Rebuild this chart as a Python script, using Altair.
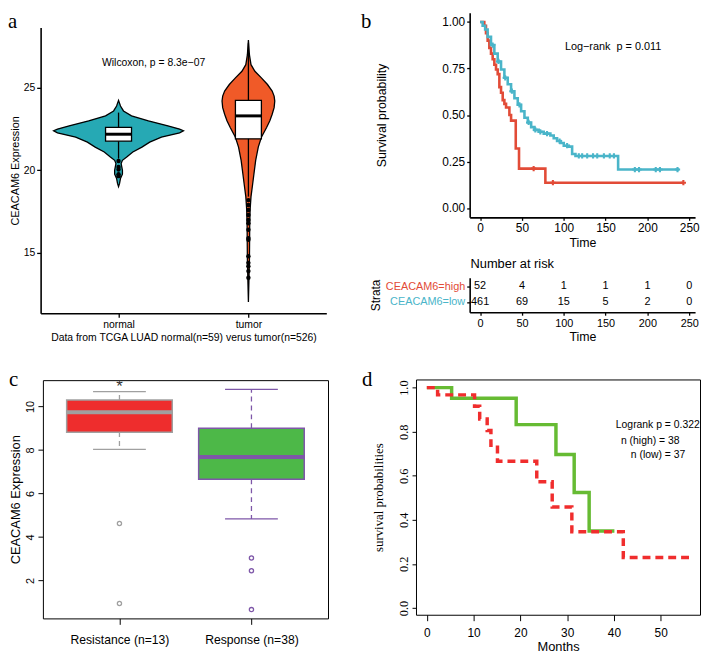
import altair as alt
import numpy as np
import pandas as pd

SANS = "Liberation Sans"
SERIF = "Liberation Serif"
W, H = 701, 651

# ---------------- panel a : violin + box ----------------
normal_y = [24.24, 23.90, 23.60, 23.30, 23.00, 22.70, 22.50, 22.40, 22.27, 22.01, 21.71,
            21.41, 21.11, 20.81, 20.61, 20.41, 20.21, 20.01, 19.77, 19.51, 19.21, 19.01]
normal_hw = [0.0, 0.015, 0.038, 0.10, 0.23, 0.38, 0.47, 0.50, 0.47, 0.33, 0.24,
             0.18, 0.11, 0.063, 0.03, 0.02, 0.025, 0.03, 0.03, 0.015, 0.008, 0.0]
tumor_y = [27.89, 26.99, 26.40, 26.00, 25.60, 25.20, 24.80, 24.50, 24.20, 23.80, 23.40, 23.00,
           22.60, 22.01, 21.41, 20.61, 19.81, 19.01, 18.41, 17.61, 16.62, 14.62, 12.03]
tumor_hw = [0.0, 0.008, 0.02, 0.05, 0.10, 0.147, 0.183, 0.198, 0.203, 0.198, 0.183, 0.165,
            0.14, 0.10, 0.076, 0.056, 0.043, 0.03, 0.02, 0.013, 0.01, 0.008, 0.0]
a_groups = ["normal", "tumor"]
a_pos = [1, 2]
a_q1 = [21.77, 21.91]
a_med = [22.19, 23.30]
a_q3 = [22.60, 24.24]
a_lo = [20.71, 18.41]
a_hi = [23.50, 27.70]
normal_out = [20.57, 20.20, 20.05, 19.77, 19.65]
tumor_out = [18.2, 17.9, 17.6, 17.3, 17.0, 16.8, 16.4, 15.9, 15.8, 14.8, 14.4, 14.2, 13.9, 13.5]

# ---------------- panel b : KM + risk table ----------------
b_high_t = [0, 5, 7, 9, 11, 13, 15, 17, 19, 21, 23, 25, 27, 29, 31, 35, 37, 42.6, 46.5, 78, 243]
b_high_s = [1.0, 0.98, 0.94, 0.90, 0.86, 0.83, 0.80, 0.77, 0.745, 0.72, 0.65, 0.62, 0.58, 0.56,
            0.54, 0.50, 0.47, 0.32, 0.212, 0.136, 0.136]
b_low_t = [0, 3, 6, 9, 13, 17, 21, 25, 29, 33, 37, 41, 45, 49, 53, 57, 61, 65, 70, 76, 84, 88,
           92, 96, 100, 106, 110, 114, 165, 238]
b_low_s = [1.0, 0.98, 0.96, 0.92, 0.876, 0.83, 0.788, 0.745, 0.70, 0.665, 0.628, 0.59, 0.555,
           0.52, 0.485, 0.46, 0.435, 0.42, 0.41, 0.40, 0.39, 0.375, 0.36, 0.35, 0.335, 0.33,
           0.29, 0.28, 0.207, 0.207]
b_high_cens = [64, 87, 243]
b_low_cens = [15, 22, 30, 38, 47, 58, 66, 72, 80, 95, 104, 118, 122, 128, 135, 140, 148, 155,
              160, 185, 190, 210, 215, 236]
rt_times = [0, 50, 100, 150, 200, 250]
rt_high = [52, 4, 1, 1, 1, 0]
rt_low = [461, 69, 15, 5, 2, 0]
strata = ["CEACAM6=high", "CEACAM6=low"]

# ---------------- panel c : boxplot ----------------
c_groups = ["Resistance", "Response"]
c_pos = [1, 2]
c_q1 = [8.82, 6.65]
c_med = [9.73, 7.68]
c_q3 = [10.30, 9.00]
c_lo = [8.03, 4.83]
c_hi = [10.68, 10.79]
c_out_res = [4.62, 0.94]
c_out_resp = [3.03, 2.45, 0.66]

# ---------------- panel d : KM ----------------
d_green_t = [0, 5.3, 19.1, 27.6, 31.5, 34.7, 40.1]
d_green_s = [1.0, 0.952, 0.832, 0.696, 0.524, 0.349, 0.349]
d_red_t = [0, 2.3, 10.2, 11.3, 12.9, 13.7, 15.1, 23.5, 26.8, 31.0, 42.0, 56.5]
d_red_s = [1.0, 0.967, 0.915, 0.858, 0.805, 0.738, 0.666, 0.573, 0.458, 0.346, 0.229, 0.229]


def S(dom, rng):
    return alt.Scale(domain=dom, range=rng, nice=False, zero=False)


SA_X = S([0.4, 2.6], [33, 322]); SA_Y = S([11.35, 28.65], [305, 16])
SB_X = S([-12.5, 257], [467, 695]); SB_Y = S([-0.05, 1.05], [208, 1])
SR_Y = S([0.34, 2.57], [304, 269])
SC_X = S([0.42, 2.58], [35.3, 323.7]); SC_Y = S([0.255, 11.21], [613.7, 372.7])
SD_X = S([-2.32, 58.4], [412.7, 700]); SD_Y = S([-0.031, 1.037], [610, 372])


def X(f, sc, axis=None):
    return alt.X(f, type="quantitative", scale=sc, axis=axis)


def Y(f, sc, axis=None):
    return alt.Y(f, type="quantitative", scale=sc, axis=axis)


# ======== panel a ========
A_BOX_HW = 0.10
vio = pd.concat([
    pd.DataFrame({"group": "normal", "value": normal_y,
                  "lo": 1 - np.array(normal_hw), "hi": 1 + np.array(normal_hw)}),
    pd.DataFrame({"group": "tumor", "value": tumor_y,
                  "lo": 2 - np.array(tumor_hw), "hi": 2 + np.array(tumor_hw)}),
])
abox = pd.DataFrame({"group": a_groups, "pos": a_pos, "q1": a_q1, "med": a_med,
                     "q3": a_q3, "lo": a_lo, "hi": a_hi})
abox["x0"] = abox["pos"] - A_BOX_HW
abox["x1"] = abox["pos"] + A_BOX_HW
aout = pd.DataFrame({"pos": [1] * len(normal_out) + [2] * len(tumor_out),
                     "v": normal_out + tumor_out})

ggax = dict(domainWidth=1.6, tickWidth=1.3, tickSize=4, labelPadding=2, labelFontSize=10.5,
            titleFontSize=11)
ax_a_x = alt.Axis(orient="bottom", offset=305 - H, values=[1, 2],
                  labelExpr="datum.value == 1 ? 'normal' : 'tumor'",
                  title="Data from TCGA LUAD normal(n=59) verus tumor(n=526)",
                  titlePadding=3, **{**ggax, "titleFontSize": 10.5})
ax_a_y = alt.Axis(orient="left", offset=-33, values=[15, 20, 25], title="CEACAM6 Expression",
                  titlePadding=3, **ggax)

a_violin = alt.Chart(vio).mark_area(orient="horizontal", stroke="black", strokeWidth=1.3,
                                    opacity=1).encode(
    y=Y("value", SA_Y, ax_a_y), x=X("lo", SA_X, ax_a_x), x2="hi",
    color=alt.Color("group:N", scale=alt.Scale(domain=a_groups, range=["#26A9B4", "#F05A28"]),
                    legend=None),
    detail="group:N")
a_whisk = alt.Chart(abox).mark_rule(color="black", strokeWidth=1.3).encode(
    x=X("pos", SA_X), y=Y("lo", SA_Y), y2="hi")
a_box = alt.Chart(abox).mark_rect(fill="white", stroke="black", strokeWidth=1.3).encode(
    x=X("x0", SA_X), x2="x1", y=Y("q1", SA_Y), y2="q3")
a_med = alt.Chart(abox).mark_rule(color="black", strokeWidth=3).encode(
    x=X("x0", SA_X), x2="x1", y=Y("med", SA_Y))
a_out = alt.Chart(aout).mark_circle(color="black", size=20, opacity=1).encode(
    x=X("pos", SA_X), y=Y("v", SA_Y))
a_txt = alt.Chart(pd.DataFrame({"x": [1.27], "y": [26.5]})).mark_text(
    text="Wilcoxon, p = 8.3e\u221207", font=SANS, fontSize=10.5, color="black").encode(
    x=X("x", SA_X), y=Y("y", SA_Y))

# ======== panel b ========
def km_frame(t, s, grp):
    return pd.DataFrame({"t": t, "s": s, "g": grp})


def censor_frame(ct, t, s, grp):
    idx = np.searchsorted(np.array(t), np.array(ct), side="right") - 1
    return pd.DataFrame({"t": ct, "s": np.array(s)[idx], "g": grp})


bkm = pd.concat([km_frame(b_high_t, b_high_s, "high"), km_frame(b_low_t, b_low_s, "low")])
bcen = pd.concat([censor_frame(b_high_cens, b_high_t, b_high_s, "high"),
                  censor_frame(b_low_cens, b_low_t, b_low_s, "low")])
KM_COL = alt.Scale(domain=["high", "low"], range=["#E24B37", "#4AB5C9"])

bax = dict(domainWidth=1.6, tickWidth=1.3, tickSize=3, labelPadding=2, labelFontSize=12,
           titleFontSize=12.5)
ax_b_x = alt.Axis(orient="bottom", offset=208 - H, values=rt_times, title="Time",
                  titlePadding=3, **bax)
ax_b_y = alt.Axis(orient="left", offset=-467, values=[0, 0.25, 0.5, 0.75, 1.0], format=".2f",
                  title="Survival probability", titlePadding=54, **bax)

b_lines = alt.Chart(bkm).mark_line(interpolate="step-after", strokeWidth=2.6).encode(
    x=X("t", SB_X, ax_b_x), y=Y("s", SB_Y, ax_b_y),
    color=alt.Color("g:N", scale=KM_COL, legend=None))
b_cens = alt.Chart(bcen).mark_point(shape="cross", filled=True, size=28, opacity=1).encode(
    x=X("t", SB_X), y=Y("s", SB_Y), color=alt.Color("g:N", scale=KM_COL, legend=None))
b_txt = alt.Chart(pd.DataFrame({"x": [159], "y": [0.867]})).mark_text(
    text="Log\u2212rank\u00a0\u00a0p = 0.011", font=SANS, fontSize=11, color="black").encode(
    x=X("x", SB_X), y=Y("y", SB_Y))

rt = pd.DataFrame({"t": rt_times * 2, "n": rt_high + rt_low,
                   "row": [2] * len(rt_times) + [1] * len(rt_times)})
ax_r_x = alt.Axis(orient="bottom", offset=304 - H, values=rt_times, title="Time",
                  titlePadding=3, **{**bax, "labelFontSize": 11})
ax_r_y = alt.Axis(orient="left", offset=-467, values=[1, 2],
                  labelExpr=f"datum.value == 2 ? '{strata[0]}' : '{strata[1]}'",
                  labelColor={"condition": {"test": "datum.value == 2", "value": "#E24B37"},
                              "value": "#4AB5C9"},
                  title="Strata", titlePadding=3, **{**bax, "labelFontSize": 11, "titleFontSize": 12})
r_txt = alt.Chart(rt).mark_text(font=SANS, fontSize=11, color="black").encode(
    x=X("t", SB_X, ax_r_x), y=Y("row", SR_Y, ax_r_y), text="n:Q")
r_title = alt.Chart(pd.DataFrame({"x": [-11.5], "y": [3.46]})).mark_text(
    text="Number at risk", font=SANS, fontSize=13, align="left", color="black").encode(
    x=X("x", SB_X), y=Y("y", SR_Y))

# ======== panel c ========
C_BOX_HW = 0.40
C_CAP_HW = 0.20
cbox = pd.DataFrame({"group": c_groups, "pos": c_pos, "q1": c_q1, "med": c_med, "q3": c_q3,
                     "lo": c_lo, "hi": c_hi})
cbox["x0"] = cbox["pos"] - C_BOX_HW
cbox["x1"] = cbox["pos"] + C_BOX_HW
cwh = pd.concat([
    pd.DataFrame({"group": c_groups, "pos": c_pos, "a": c_q3, "b": c_hi}),
    pd.DataFrame({"group": c_groups, "pos": c_pos, "a": c_q1, "b": c_lo}),
])
ccap = pd.concat([
    pd.DataFrame({"group": c_groups, "pos": c_pos, "v": c_hi}),
    pd.DataFrame({"group": c_groups, "pos": c_pos, "v": c_lo}),
])
ccap["c0"] = ccap["pos"] - C_CAP_HW
ccap["c1"] = ccap["pos"] + C_CAP_HW
cout = pd.DataFrame({"group": ["Resistance"] * len(c_out_res) + ["Response"] * len(c_out_resp),
                     "pos": [1] * len(c_out_res) + [2] * len(c_out_resp),
                     "v": c_out_res + c_out_resp})
C_FILL = alt.Scale(domain=c_groups, range=["#EE2D2D", "#4DB848"])
C_LINE = alt.Scale(domain=c_groups, range=["#A0A0A0", "#7E57A8"])

rax = dict(domainWidth=1, tickWidth=1, domainColor="black", tickColor="black")
ax_c_x = alt.Axis(orient="bottom", offset=613.7 - H, values=[1, 2],
                  labelExpr="datum.value == 1 ? 'Resistance (n=13)' : 'Response (n=38)'",
                  tickSize=6, labelPadding=9, labelFontSize=12.3, title=None, **rax)
ax_c_y = alt.Axis(orient="left", offset=-35.3, values=[2, 4, 6, 8, 10], labelAngle=270,
                  labelAlign="center", labelBaseline="bottom", tickSize=5, labelPadding=2,
                  labelFontSize=11, title="CEACAM6 Expression", titleFontSize=13,
                  titlePadding=3, **rax)
frame_top_c = alt.Axis(orient="top", offset=-372.7, labels=False, ticks=False, title=None, **rax)
frame_right_c = alt.Axis(orient="right", offset=323.7 - W, labels=False, ticks=False,
                         title=None, **rax)

c_wh = alt.Chart(cwh).mark_rule(strokeWidth=1.3, strokeDash=[5, 4]).encode(
    x=X("pos", SC_X), y=Y("a", SC_Y), y2="b",
    color=alt.Color("group:N", scale=C_LINE, legend=None))
c_cap = alt.Chart(ccap).mark_rule(strokeWidth=1.3).encode(
    x=X("c0", SC_X), x2="c1", y=Y("v", SC_Y),
    color=alt.Color("group:N", scale=C_LINE, legend=None))
c_box = alt.Chart(cbox).mark_rect(strokeWidth=1.5).encode(
    x=X("x0", SC_X, ax_c_x), x2="x1", y=Y("q1", SC_Y, ax_c_y), y2="q3",
    fill=alt.Fill("group:N", scale=C_FILL, legend=None),
    stroke=alt.Stroke("group:N", scale=C_LINE, legend=None))
c_med = alt.Chart(cbox).mark_rule(strokeWidth=4).encode(
    x=X("x0", SC_X), x2="x1", y=Y("med", SC_Y),
    color=alt.Color("group:N", scale=C_LINE, legend=None))
c_out = alt.Chart(cout).mark_point(shape="circle", filled=False, size=18, strokeWidth=1.3,
                                   opacity=1).encode(
    x=X("pos", SC_X, frame_top_c), y=Y("v", SC_Y, frame_right_c),
    color=alt.Color("group:N", scale=C_LINE, legend=None))
c_star = alt.Chart(pd.DataFrame({"x": [1], "y": [10.90]})).mark_text(
    text="*", font=SANS, fontSize=17, color="#333333", baseline="middle").encode(
    x=X("x", SC_X), y=Y("y", SC_Y))

# ======== panel d ========
dg = pd.DataFrame({"t": d_green_t, "s": d_green_s})
dr = pd.DataFrame({"t": d_red_t, "s": d_red_s})
ax_d_x = alt.Axis(orient="bottom", offset=610 - H, values=[0, 10, 20, 30, 40, 50], tickSize=6,
                  labelPadding=7, labelFontSize=12, title="Months", titleFontSize=13,
                  titlePadding=2, **rax)
ax_d_y = alt.Axis(orient="left", offset=-412.7, values=[0, 0.2, 0.4, 0.6, 0.8, 1.0],
                  format=".1f", labelAngle=270, labelAlign="center", labelBaseline="bottom",
                  labelFont=SERIF, labelFontSize=12.5, tickSize=4, labelPadding=2,
                  title="survival probabilities", titleFont=SERIF, titleFontSize=13,
                  titlePadding=12, **rax)
frame_top_d = alt.Axis(orient="top", offset=-372, labels=False, ticks=False, title=None, **rax)
frame_right_d = alt.Axis(orient="right", offset=700 - W, labels=False, ticks=False,
                         title=None, **rax)

d_green = alt.Chart(dg).mark_line(interpolate="step-after", strokeWidth=3.5,
                                  color="#66BB33").encode(
    x=X("t", SD_X, ax_d_x), y=Y("s", SD_Y, ax_d_y))
d_red = alt.Chart(dr).mark_line(interpolate="step-after", strokeWidth=3.5, color="#F02D2D",
                                strokeDash=[8, 5]).encode(
    x=X("t", SD_X, frame_top_d), y=Y("s", SD_Y, frame_right_d))
d_txt = alt.Chart(pd.DataFrame({
    "x": [40.4, 41.5, 43.6], "y": [0.828, 0.759, 0.696],
    "t": ["Logrank p = 0.322", "n (high) = 38", "n (low) = 37"]})).mark_text(
    font=SANS, fontSize=10.5, align="left", color="black").encode(
    x=X("x", SD_X), y=Y("y", SD_Y), text="t:N")

# ======== panel letters ========
def letter(ch, px, py):
    return alt.Chart(pd.DataFrame({"k": [0]})).mark_text(
        text=ch, font=SERIF, fontSize=21, align="left", baseline="alphabetic",
        color="black").encode(x=alt.value(px), y=alt.value(py))


letters = [letter("a", 0, 16), letter("b", 357, 16), letter("c", 1, 379), letter("d", 358, 379)]

chart = alt.layer(
    a_violin, a_whisk, a_box, a_med, a_out, a_txt,
    b_lines, b_cens, b_txt, r_txt, r_title,
    c_wh, c_cap, c_box, c_med, c_out, c_star,
    d_green, d_red, d_txt,
    *letters,
).resolve_scale(
    x="independent", y="independent", color="independent", fill="independent",
    stroke="independent"
).properties(
    width=W, height=H, autosize=alt.AutoSizeParams(type="none"), padding=0
).configure_axis(
    grid=False, labelFont=SANS, titleFont=SANS, titleFontWeight="normal", labelColor="black",
    titleColor="black", domainColor="black", tickColor="black"
).configure_view(stroke=None)

chart.save("out.html", embed_options={"renderer": "svg", "actions": False})
